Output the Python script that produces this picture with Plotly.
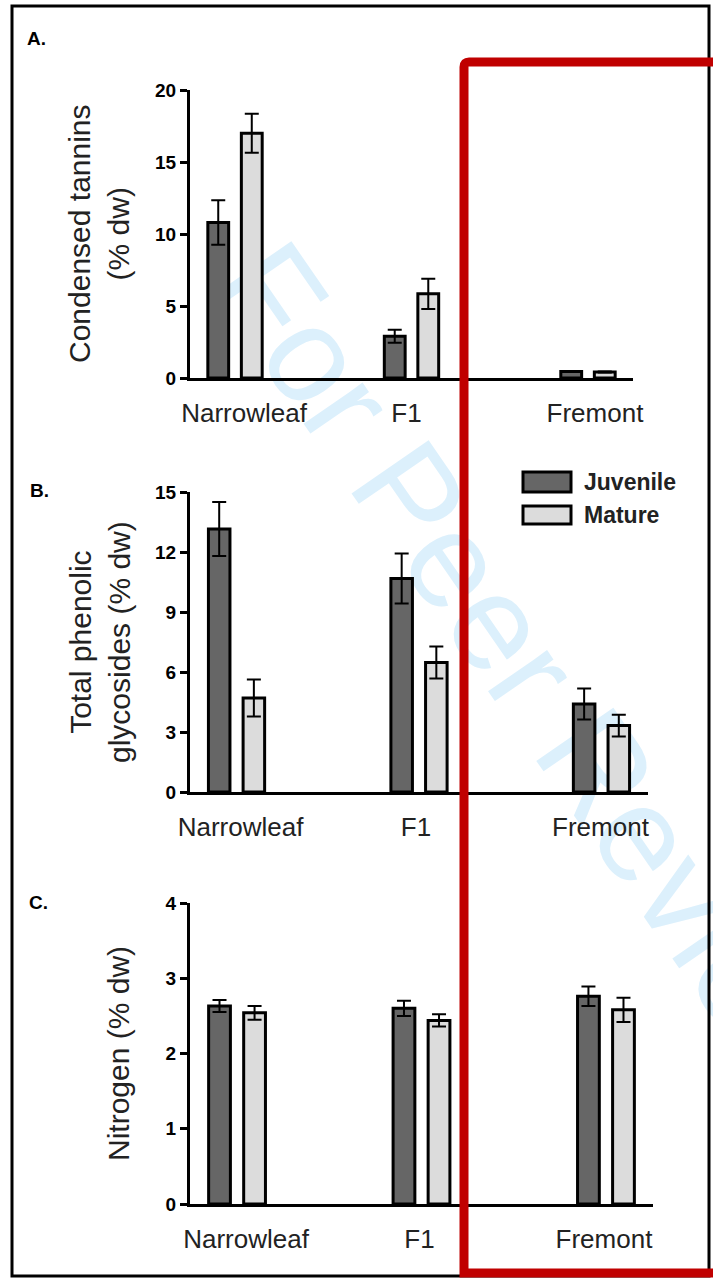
import plotly.graph_objects as go

W, H = 713, 1278

# ---- data -------------------------------------------------------------
groups = ["Narrowleaf", "F1", "Fremont"]

tannin_juv = [10.8, 2.9, 0.45]
tannin_juv_err = [1.55, 0.45, 0.04]
tannin_mat = [17.0, 5.85, 0.42]
tannin_mat_err = [1.35, 1.05, 0.04]

phenolic_juv = [13.15, 10.68, 4.4]
phenolic_juv_err = [1.35, 1.25, 0.77]
phenolic_mat = [4.7, 6.47, 3.32]
phenolic_mat_err = [0.92, 0.8, 0.54]

nitrogen_juv = [2.63, 2.60, 2.76]
nitrogen_juv_err = [0.08, 0.10, 0.13]
nitrogen_mat = [2.54, 2.44, 2.58]
nitrogen_mat_err = [0.09, 0.08, 0.16]

tannin_ticks = [0, 5, 10, 15, 20]
phenolic_ticks = [0, 3, 6, 9, 12, 15]
nitrogen_ticks = [0, 1, 2, 3, 4]

series_names = ["Juvenile", "Mature"]

# ---- styling ----------------------------------------------------------
JUV_COLOR = "#666666"
MAT_COLOR = "#dcdcdc"
TEXT = "#222222"
FONT = "Liberation Sans, Arial, sans-serif"
BAR_W = 0.118
OFFSET = 0.095
X_RANGE = [-0.255, 2.255]


def px(x):
    return x / W


def py(y):
    return 1 - y / H


panels = [
    dict(letter="A.", letter_xy=(25, 39),
         title="Condensed tannins<br>(% dw)", title_xy=(99, 234),
         box=(190, 633, 90, 378), top=20, ticks=tannin_ticks,
         label_shift_px=(9, -5, 7),
         juv=tannin_juv, juv_err=tannin_juv_err,
         mat=tannin_mat, mat_err=tannin_mat_err),
    dict(letter="B.", letter_xy=(28, 490),
         title="Total phenolic<br>glycosides (% dw)", title_xy=(100, 642),
         box=(190, 648, 492, 792), top=15, ticks=phenolic_ticks,
         label_shift_px=(4, -3, -1),
         juv=phenolic_juv, juv_err=phenolic_juv_err,
         mat=phenolic_mat, mat_err=phenolic_mat_err),
    dict(letter="C.", letter_xy=(27, 902),
         title="Nitrogen (% dw)", title_xy=(118, 1054),
         box=(190, 653, 903, 1204), top=4, ticks=nitrogen_ticks,
         label_shift_px=(9, -2, -2),
         juv=nitrogen_juv, juv_err=nitrogen_juv_err,
         mat=nitrogen_mat, mat_err=nitrogen_mat_err),
]

fig = go.Figure()
annotations = []
shapes = []

# watermark, kept underneath the plots
wm_c = (545, 668)
wm_dir = (0.568, 0.823)
wm_d = 300
shapes.append(dict(
    type="line", xref="paper", yref="paper", layer="below",
    x0=px(wm_c[0] - wm_d * wm_dir[0]), y0=py(wm_c[1] - wm_d * wm_dir[1]),
    x1=px(wm_c[0] + wm_d * wm_dir[0]), y1=py(wm_c[1] + wm_d * wm_dir[1]),
    line=dict(width=0, color="rgba(0,0,0,0)"),
    label=dict(text="For Peer Review", textposition="middle", yanchor="middle",
               font=dict(family=FONT, size=136, color="#dcf0fc")),
))

layout_axes = {}
for i, p in enumerate(panels):
    n = "" if i == 0 else str(i + 1)
    xa, ya = "x" + n, "y" + n
    x0, x1, y0, y1 = p["box"]
    pos = list(range(len(groups)))
    units_per_px = (X_RANGE[1] - X_RANGE[0]) / (x1 - x0)
    label_pos = [g + s * units_per_px for g, s in zip(pos, p["label_shift_px"])]

    for vals, errs, color, name, sgn in (
        (p["juv"], p["juv_err"], JUV_COLOR, series_names[0], -1),
        (p["mat"], p["mat_err"], MAT_COLOR, series_names[1], 1),
    ):
        fig.add_trace(go.Bar(
            x=[g + sgn * OFFSET for g in pos], y=vals, width=BAR_W, name=name,
            marker=dict(color=color, line=dict(color="black", width=3)),
            error_y=dict(type="data", array=errs, color="black",
                         thickness=2, width=7),
            xaxis=xa, yaxis=ya, showlegend=False,
        ))

    layout_axes["xaxis" + n] = dict(
        domain=[px(x0), px(x1)], anchor=ya, range=X_RANGE,
        tickvals=label_pos, ticktext=groups, ticks="", ticklabelstandoff=10,
        showline=True, linewidth=2.5, linecolor="black",
        showgrid=False, zeroline=False, automargin=False,
        tickfont=dict(family=FONT, size=26, color=TEXT),
    )
    layout_axes["yaxis" + n] = dict(
        domain=[py(y1), py(y0)], anchor=xa, range=[0, p["top"]],
        tickvals=p["ticks"], ticks="outside", ticklen=7, tickwidth=2.5,
        tickcolor="black", showline=True, linewidth=3, linecolor="black",
        showgrid=False, zeroline=False, automargin=False,
        tickfont=dict(family=FONT, size=19, color="black", weight="bold"),
    )

    annotations.append(dict(
        text=p["title"], textangle=-90, xref="paper", yref="paper",
        x=px(p["title_xy"][0]), y=py(p["title_xy"][1]),
        xanchor="center", yanchor="middle", showarrow=False,
        font=dict(family=FONT, size=30, color=TEXT),
    ))
    annotations.append(dict(
        text=p["letter"], xref="paper", yref="paper",
        x=px(p["letter_xy"][0]), y=py(p["letter_xy"][1]),
        xanchor="left", yanchor="middle", showarrow=False,
        font=dict(family=FONT, size=19, color="black", weight="bold"),
    ))

# legend: swatches and labels
legend_rows = [(series_names[0], JUV_COLOR, 472, 492),
               (series_names[1], MAT_COLOR, 506, 524)]
for name, color, t, b in legend_rows:
    shapes.append(dict(
        type="rect", xref="paper", yref="paper", layer="above",
        x0=px(523), x1=px(571), y0=py(b), y1=py(t),
        fillcolor=color, line=dict(color="black", width=3),
    ))
    annotations.append(dict(
        text=name, xref="paper", yref="paper",
        x=px(582), y=py((t + b) / 2), xanchor="left", yanchor="middle",
        showarrow=False,
        font=dict(family=FONT, size=23, color=TEXT, weight="bold"),
    ))

# outer frame
shapes.append(dict(
    type="rect", xref="paper", yref="paper", layer="above",
    x0=px(12), x1=px(709), y0=py(1276), y1=py(6),
    line=dict(color="black", width=3), fillcolor="rgba(0,0,0,0)",
))

# red highlight box
rx0, ry0, rx1, ry1, r = 464, 62, 725, 1273, 5
shapes.append(dict(
    type="path", xref="paper", yref="paper", layer="above",
    path=(f"M {px(rx0)},{py(ry1)} L {px(rx0)},{py(ry0 + r)} "
          f"Q {px(rx0)},{py(ry0)} {px(rx0 + r)},{py(ry0)} "
          f"L {px(rx1)},{py(ry0)} L {px(rx1)},{py(ry1)} Z"),
    line=dict(color="#c00000", width=9), fillcolor="rgba(0,0,0,0)",
))

fig.update_layout(
    width=W, height=H, margin=dict(l=0, r=0, t=0, b=0, pad=0, autoexpand=False),
    paper_bgcolor="white", plot_bgcolor="rgba(0,0,0,0)",
    barmode="overlay", showlegend=False,
    annotations=annotations, shapes=shapes,
    **layout_axes,
)

fig.write_html("out.html", post_script="document.body.style.margin='0';")
